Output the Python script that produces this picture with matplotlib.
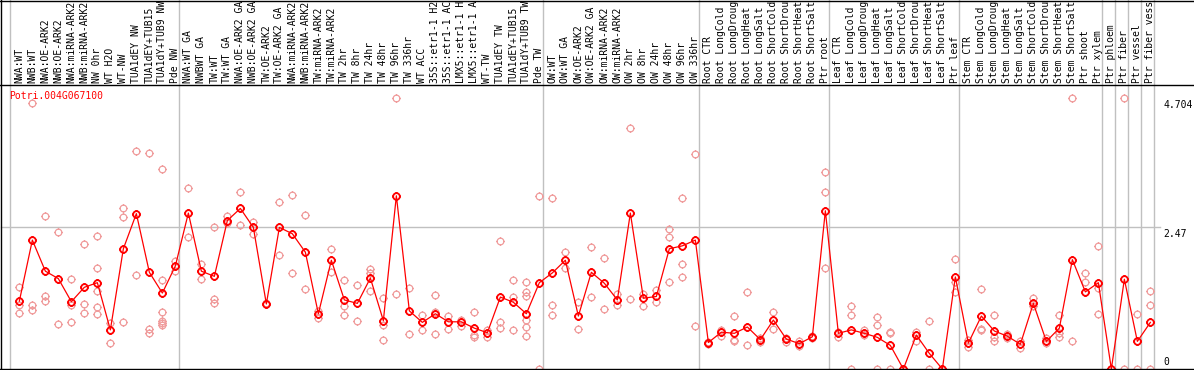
import matplotlib
matplotlib.use("Agg")
import matplotlib.pyplot as plt
from matplotlib.path import Path
from matplotlib.lines import Line2D
import numpy as np

gene = "Potri.004G067100"

# etiquetas tal como se ven (recortadas a 14 caracteres)
labels = [
    # grupo 1
    "NWA:WT", "NWB:WT", "NWA:OE-ARK2", "NWB:OE-ARK2", "NWA:miRNA-ARK2", "NWB:miRNA-ARK2",
    "NW 0hr", "WT H2O", "WT-NW", "TUA1dEY NW", "TUA1dEY+TUB15", "TUA1dY+TUB9 NW", "Pde NW",
    # grupo 2
    "NWA:WT GA", "NWBWT GA", "TW:WT", "TW:WT GA", "NWA:OE-ARK2 GA", "NWB:OE-ARK2 GA",
    "TW:OE-ARK2", "TW:OE-ARK2 GA", "NWA:miRNA-ARK2", "NWB:miRNA-ARK2", "TW:miRNA-ARK2",
    "TW:miRNA-ARK2", "TW 2hr", "TW 8hr", "TW 24hr", "TW 48hr", "TW 96hr", "TW 336hr", "WT ACC",
    "35S::etr1-1 H2", "35S::etr1-1 AC", "LMX5::etr1-1 H", "LMX5::etr1-1 A", "WT-TW",
    "TUA1dEY TW", "TUA1dEY+TUB15", "TUA1dY+TUB9 TW", "Pde TW",
    # grupo 3
    "OW:WT", "OW:WT GA", "OW:OE-ARK2", "OW:OE-ARK2 GA", "OW:miRNA-ARK2", "OW:miRNA-ARK2",
    "OW 2hr", "OW 8hr", "OW 24hr", "OW 48hr", "OW 96hr", "OW 336hr",
    # raiz
    "Root CTR", "Root LongCold", "Root LongDroug", "Root LongHeat", "Root LongSalt",
    "Root ShortCold", "Root ShortDrou", "Root ShortHeat", "Root ShortSalt", "Ptr root",
    # hoja
    "Leaf CTR", "Leaf LongCold", "Leaf LongDroug", "Leaf LongHeat", "Leaf LongSalt",
    "Leaf ShortCold", "Leaf ShortDrou", "Leaf ShortHeat", "Leaf ShortSalt", "Ptr leaf",
    # tallo
    "Stem CTR", "Stem LongCold", "Stem LongDroug", "Stem LongHeat", "Stem LongSalt",
    "Stem ShortCold", "Stem ShortDrou", "Stem ShortHeat", "Stem ShortSalt", "Ptr shoot",
    "Ptr xylem",
    "Ptr phloem", "Ptr fiber", "Ptr vessel", "Ptr fiber vess",
]

group_sizes = [13, 28, 12, 10, 10, 11, 1, 1, 1, 1]

means = [
    1.18, 2.24, 1.70, 1.57, 1.17, 1.42, 1.50, 0.68, 2.09, 2.70, 1.68, 1.32, 1.79,
    2.71, 1.70, 1.61, 2.58, 2.79, 2.46, 1.13, 2.46, 2.35, 2.03, 0.96, 1.89, 1.20, 1.14,
    1.58, 0.84, 3.01, 1.01, 0.81, 0.96, 0.82, 0.82, 0.71, 0.63, 1.25, 1.16, 0.96, 1.50,
    1.67, 1.89, 0.92, 1.68, 1.49, 1.20, 2.71, 1.23, 1.26, 2.09, 2.14, 2.24,
    0.46, 0.64, 0.62, 0.73, 0.51, 0.85, 0.52, 0.44, 0.56, 2.75,
    0.62, 0.68, 0.62, 0.55, 0.41, 0.00, 0.59, 0.27, 0.00, 1.60,
    0.45, 0.92, 0.66, 0.57, 0.43, 1.14, 0.48, 0.71, 1.90, 1.34, 1.50,
    0.00, 1.56, 0.48, 0.81,
]

replicates = [
    [1.42, 1.11, 0.97], [4.62, 1.11, 1.02], [2.66, 1.27, 1.18], [2.38, 0.78],
    [1.57, 1.11, 0.81], [2.18, 1.13, 0.97], [2.31, 1.75, 1.35, 1.07, 0.95], [0.80, 0.45],
    [2.80, 2.64, 0.81], [3.78, 1.63], [3.76, 0.69, 0.62], [3.48, 1.55, 0.99, 0.84, 0.80, 0.76],
    [1.88, 1.70],
    [3.14, 2.29], [1.83, 1.57], [2.47, 1.22, 1.14], [2.65, 2.53], [3.07, 2.50], [2.56, 2.35],
    [1.14], [2.91, 1.98], [3.03, 1.67], [2.68, 1.39], [1.00, 0.88], [2.09, 1.68],
    [1.55, 1.10, 0.94], [1.46, 0.84], [1.74, 1.67, 1.35], [1.23, 0.77, 0.50], [4.704, 1.31],
    [1.41, 0.60], [0.94, 0.68], [1.29, 0.99, 0.60], [0.92, 0.69], [0.85, 0.74],
    [0.99, 0.59, 0.55], [0.67, 0.56], [2.23, 0.82, 0.71], [1.55, 1.25, 0.68],
    [1.52, 1.33, 1.26, 0.85, 0.73, 0.58], [3.00, 0.00],
    [2.98, 1.11, 0.94], [2.03, 1.75], [1.16, 0.70], [2.12, 1.25], [1.93, 1.04], [1.31, 1.11],
    [4.19, 1.22], [1.31, 1.09], [1.38, 1.16], [2.43, 2.29, 1.51], [2.97, 1.82, 1.60],
    [3.74, 0.74],
    [0.47, 0.44], [0.68, 0.58], [0.92, 0.51, 0.48], [1.34, 0.42], [0.53, 0.47], [0.99, 0.70],
    [0.53, 0.47], [0.49, 0.40], [0.57, 0.53], [3.43, 3.08, 1.75],
    [0.65, 0.56], [1.09, 0.94, 0.00], [0.67, 0.59], [0.90, 0.76, 0.00], [0.64, 0.62, 0.00],
    [0.00, 0.00], [0.65, 0.49], [0.84, 0.00], [0.00, 0.00], [1.92, 1.52, 1.34],
    [0.51, 0.39], [1.39, 0.70, 0.68], [0.94, 0.56, 0.48], [0.61, 0.53], [0.49, 0.37],
    [1.24, 1.09], [0.53, 0.45], [0.94, 0.62, 0.56], [4.704, 0.49], [1.67, 1.51],
    [2.14, 1.40, 0.96],
    [0.00, 0.00], [4.704, 0.00], [0.96, 0.00], [1.35, 1.11, 0.00],
]

y_ticks = [0, 2.47, 4.704]
y_tick_labels = ["0", "2.47", "4.704"]

# tamaño en pixeles
W, H = 1194, 370
fig = plt.figure(figsize=(W / 100, H / 100), dpi=100)

def fx(px):
    return px / W

def fy(py):
    return 1 - py / H

plot_top, plot_bottom = 85, 369
plot_left, plot_right = 1, 1155
px_per_unit = 57.55
ax = fig.add_axes([fx(plot_left), fy(plot_bottom),
                   fx(plot_right) - fx(plot_left), fy(plot_top) - fy(plot_bottom)])
px_per_col = 13.0
ax.set_xlim((plot_left - 10) / px_per_col, (plot_right - 10) / px_per_col)
ax.set_ylim(0, (plot_bottom - plot_top) / px_per_unit)
ax.axis("off")

gray = "#c0c0c0"
pink = "#f09c9c"
font = "DejaVu Sans Mono"
fs = 7.0

# marcador: circulo con pequeñas marcas
circ = Path.unit_circle()
t = 1.25
ticks = Path([(1, 0), (t, 0), (-1, 0), (-t, 0), (0, 1), (0, t), (0, -1), (0, -t)],
             [Path.MOVETO, Path.LINETO] * 4)
mk = Path.make_compound_path(circ, ticks)
ms = 6.0

# lineas de grupos
bounds = np.concatenate([[0], np.cumsum(group_sizes)])
extra = plot_top / (plot_bottom - plot_top)
for b in bounds:
    ax.axvline(b, 0, 1 + extra, color=gray, lw=1.0, clip_on=False, zorder=0)
ax.axhline(y_ticks[1], 0, (1160 - plot_left) / (plot_right - plot_left),
           color=gray, lw=1.0, clip_on=False, zorder=0)

x = np.arange(len(means)) + 0.72

# replicas
rx = [x[i] for i, r in enumerate(replicates) for _ in r]
ry = [v for r in replicates for v in r]
ax.plot(rx, ry, linestyle="none", marker=mk, ms=ms, mfc="none", mec=pink, mew=0.9, zorder=2)

# promedio
ax.plot(x, means, color="red", lw=0.9, marker=mk, ms=ms, mfc="none", mec="red",
        mew=1.3, zorder=3)

# etiquetas de columnas
label_y = (plot_bottom - 83) / (plot_bottom - plot_top)
for i, lab in enumerate(labels):
    ax.text(x[i], label_y, lab, transform=ax.get_xaxis_transform(), rotation=90,
            ha="center", va="bottom", family=font, fontsize=fs, color="black", clip_on=False)

# etiquetas eje y
for v, lab in zip(y_ticks, y_tick_labels):
    if v > 0:
        fig.text(fx(1163), fy(plot_bottom - v * px_per_unit + 2), lab, family=font,
                 fontsize=fs, ha="left", va="top")
    else:
        fig.text(fx(1163), fy(plot_bottom - 2), lab, family=font, fontsize=fs,
                 ha="left", va="bottom")

fig.text(fx(9), fy(91), gene, color="red", family=font, fontsize=fs, ha="left", va="top")

# bordes
for (x0, y0, x1, y1) in [(1, 0, 1, 370), (0, 0.5, W, 0.5), (0, plot_top, W, plot_top),
                          (0, plot_bottom, W, plot_bottom)]:
    fig.add_artist(Line2D([fx(x0), fx(x1)], [fy(y0), fy(y1)], color="black", lw=1.0,
                          transform=fig.transFigure))

fig.savefig("out.png", dpi=100)
